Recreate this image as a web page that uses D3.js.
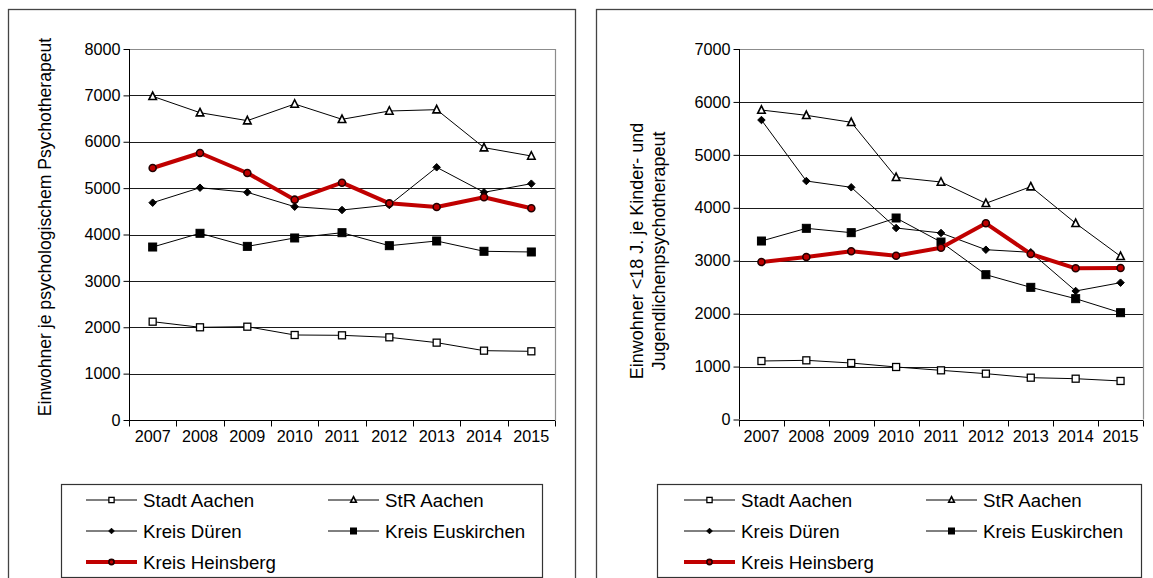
<!DOCTYPE html>
<html>
<head>
<meta charset="utf-8">
<script src="https://cdn.jsdelivr.net/npm/d3@7"></script>
<style>
  html, body { margin: 0; padding: 0; background: #fff; }
  svg { display: block; font-family: "Liberation Sans", Arial, sans-serif; }
</style>
</head>
<body>
<svg id="chart" width="1153" height="578"></svg>
<script>
// Jahre (Kategorien)
const years = ["2007", "2008", "2009", "2010", "2011", "2012", "2013", "2014", "2015"];
const seriesNames = ["Stadt Aachen", "StR Aachen", "Kreis Düren", "Kreis Euskirchen", "Kreis Heinsberg"];

// Einwohner je psychologischem Psychotherapeut
const psyStadtAachen = [2120, 1999, 2012, 1833, 1826, 1783, 1668, 1495, 1481];
const psyStrAachen = [6980, 6627, 6455, 6814, 6484, 6663, 6692, 5873, 5693];
const psyDueren = [4686, 5009, 4910, 4600, 4528, 4636, 5449, 4910, 5096];
const psyEuskirchen = [3730, 4026, 3744, 3925, 4039, 3759, 3860, 3638, 3623];
const psyHeinsberg = [5434, 5757, 5326, 4751, 5117, 4672, 4593, 4802, 4565];
const psyTicks = [0, 1000, 2000, 3000, 4000, 5000, 6000, 7000, 8000];

// Einwohner <18 J. je Kinder- und Jugendlichenpsychotherapeut
const kjpStadtAachen = [1105, 1118, 1067, 992, 929, 866, 790, 771, 728];
const kjpStrAachen = [5847, 5747, 5615, 4576, 4487, 4085, 4399, 3707, 3083];
const kjpDueren = [5658, 4506, 4387, 3618, 3524, 3208, 3159, 2428, 2585];
const kjpEuskirchen = [3372, 3612, 3530, 3807, 3353, 2736, 2497, 2283, 2018];
const kjpHeinsberg = [2976, 3070, 3178, 3095, 3246, 3707, 3127, 2857, 2862];
const kjpTicks = [0, 1000, 2000, 3000, 4000, 5000, 6000, 7000];

const RED = "#c00000";
const svg = d3.select("#chart");

// Markerformen je Reihe
const markerStyles = [
  { shape: "square", fill: "#fff", stroke: "#000", size: 7, sw: 1.3, lw: 1, color: "#000" },
  { shape: "triangle", fill: "#fff", stroke: "#000", size: 7.5, sw: 1.6, lw: 1, color: "#000" },
  { shape: "diamond", fill: "#000", stroke: "#000", size: 7.5, sw: 1, lw: 1, color: "#000" },
  { shape: "square", fill: "#000", stroke: "#000", size: 8, sw: 1, lw: 1, color: "#000" },
  { shape: "circle", fill: RED, stroke: "#200", size: 7, sw: 1.6, lw: 4, color: RED }
];

function drawMarker(g, st, cx, cy, scale) {
  const s = st.size * scale;
  const h = s / 2;
  let el;
  if (st.shape === "square") {
    el = g.append("rect").attr("x", cx - h).attr("y", cy - h).attr("width", s).attr("height", s);
  } else if (st.shape === "triangle") {
    el = g.append("path").attr("d", `M${cx},${cy - h - 0.5}L${cx + h},${cy + h - 0.5}L${cx - h},${cy + h - 0.5}Z`);
  } else if (st.shape === "diamond") {
    el = g.append("path").attr("d", `M${cx},${cy - h}L${cx + h},${cy}L${cx},${cy + h}L${cx - h},${cy}Z`);
  } else {
    el = g.append("circle").attr("cx", cx).attr("cy", cy).attr("r", h);
  }
  el.attr("fill", st.fill).attr("stroke", st.stroke).attr("stroke-width", st.sw);
}

function drawPanel(cfg) {
  const g = svg.append("g");

  // Rahmen des Diagrammbereichs
  g.append("rect")
    .attr("x", cfg.frame[0] + 0.5).attr("y", cfg.frame[1] + 0.5)
    .attr("width", cfg.frame[2]).attr("height", cfg.frame[3])
    .attr("fill", "none").attr("stroke", "#444").attr("stroke-width", 1.3);

  const x = d3.scaleBand().domain(years).range([cfg.plot.left, cfg.plot.right]).padding(0);
  const y = d3.scaleLinear().domain([0, d3.max(cfg.ticks)]).range([cfg.plot.bottom, cfg.plot.top]);

  // Gitternetzlinien
  g.append("g").selectAll("line").data(cfg.ticks.filter(t => t > 0 && t < d3.max(cfg.ticks)))
    .join("line")
    .attr("x1", cfg.plot.left).attr("x2", cfg.plot.right)
    .attr("y1", d => Math.round(y(d)) + 0.5).attr("y2", d => Math.round(y(d)) + 0.5)
    .attr("stroke", "#1a1a1a").attr("stroke-width", 1);

  // Oberer und rechter Rand der Zeichenfläche
  const top = Math.round(y(d3.max(cfg.ticks))) + 0.5;
  g.append("path")
    .attr("d", `M${cfg.plot.left},${top}H${cfg.plot.right + 0.5}V${cfg.plot.bottom}`)
    .attr("fill", "none").attr("stroke", "#8c8c8c").attr("stroke-width", 1.2);

  // Y-Achse
  const yAxis = g.append("g")
    .attr("transform", `translate(${cfg.plot.left + 0.5},0)`)
    .call(d3.axisLeft(y).tickValues(cfg.ticks).tickSize(6).tickPadding(3).tickFormat(d3.format("d")));
  yAxis.select(".domain").attr("stroke", "#000").attr("d", `M0,${cfg.plot.top}V${cfg.plot.bottom}`);
  yAxis.selectAll(".tick line").attr("stroke", "#000");
  yAxis.selectAll(".tick text").attr("font-size", 16.2).attr("font-family", "Liberation Sans, Arial, sans-serif").attr("fill", "#000");

  // X-Achse mit Teilstrichen zwischen den Kategorien
  const xBottom = Math.round(y(0)) + 0.5;
  const xAxis = g.append("g")
    .attr("transform", `translate(0,${xBottom})`)
    .call(d3.axisBottom(x).tickSize(0).tickPadding(10));
  xAxis.select(".domain").attr("stroke", "#000").attr("d", `M${cfg.plot.left},0H${cfg.plot.right}`);
  xAxis.selectAll(".tick text").attr("font-size", 16.2).attr("font-family", "Liberation Sans, Arial, sans-serif").attr("fill", "#000").attr("dy", "0.71em");
  const bounds = years.map(d => x(d)).concat([x(years[years.length - 1]) + x.bandwidth()]);
  xAxis.append("g").selectAll("line").data(bounds).join("line")
    .attr("x1", d => Math.round(d) + 0.5).attr("x2", d => Math.round(d) + 0.5)
    .attr("y1", 0).attr("y2", 6).attr("stroke", "#000");

  // Achsentitel
  const title = g.append("text")
    .attr("transform", `translate(${cfg.titleX},${cfg.titleY}) rotate(-90)`)
    .attr("text-anchor", "middle").attr("font-size", cfg.titleSize).attr("fill", "#000");
  cfg.title.forEach((line, i) => {
    title.append("tspan").attr("x", 0).attr("dy", i === 0 ? 0 : cfg.titleLead).text(line);
  });

  // Datenreihen
  const line = d3.line().x((d, i) => x(years[i]) + x.bandwidth() / 2).y(d => y(d));
  cfg.series.forEach((vals, si) => {
    const st = markerStyles[si];
    const sg = g.append("g");
    sg.append("path").attr("d", line(vals)).attr("fill", "none")
      .attr("stroke", st.color).attr("stroke-width", st.lw).attr("stroke-linejoin", "round");
    vals.forEach((v, i) => drawMarker(sg, st, x(years[i]) + x.bandwidth() / 2, y(v), 1));
  });

  // Legende
  const L = cfg.legend;
  g.append("rect").attr("x", L.x + 0.5).attr("y", L.y + 0.5).attr("width", L.w).attr("height", L.h)
    .attr("fill", "#fff").attr("stroke", "#333").attr("stroke-width", 1.2);
  seriesNames.forEach((name, si) => {
    const st = markerStyles[si];
    const col = si % 2, row = Math.floor(si / 2);
    const lx = L.x + L.colX[col];
    const ly = L.y + 16 + row * 31;
    const lg = g.append("g");
    lg.append("line").attr("x1", lx).attr("x2", lx + 51).attr("y1", ly).attr("y2", ly)
      .attr("stroke", st.color).attr("stroke-width", st.lw);
    drawMarker(lg, st, lx + 25.5, ly, 0.75);
    lg.append("text").attr("x", lx + 57).attr("y", ly).attr("dy", "0.36em")
      .attr("font-size", 18.7).attr("fill", "#000").text(name);
  });
}

drawPanel({
  frame: [8, 9, 567, 620],
  plot: { left: 129, right: 555, top: 49, bottom: 420 },
  ticks: psyTicks,
  series: [psyStadtAachen, psyStrAachen, psyDueren, psyEuskirchen, psyHeinsberg],
  title: ["Einwohner je psychologischem  Psychotherapeut"],
  titleX: 51, titleY: 227, titleSize: 17.6, titleLead: 0,
  legend: { x: 61, y: 484, w: 481, h: 93, colX: [25, 267] }
});

drawPanel({
  frame: [596, 9, 620, 620],
  plot: { left: 739, right: 1143, top: 49, bottom: 419.5 },
  ticks: kjpTicks,
  series: [kjpStadtAachen, kjpStrAachen, kjpDueren, kjpEuskirchen, kjpHeinsberg],
  title: ["Einwohner <18 J. je Kinder- und", "Jugendlichenpsychotherapeut"],
  titleX: 643, titleY: 251, titleSize: 18, titleLead: 22,
  legend: { x: 657, y: 484, w: 484, h: 93, colX: [27, 269] }
});
</script>
</body>
</html>
